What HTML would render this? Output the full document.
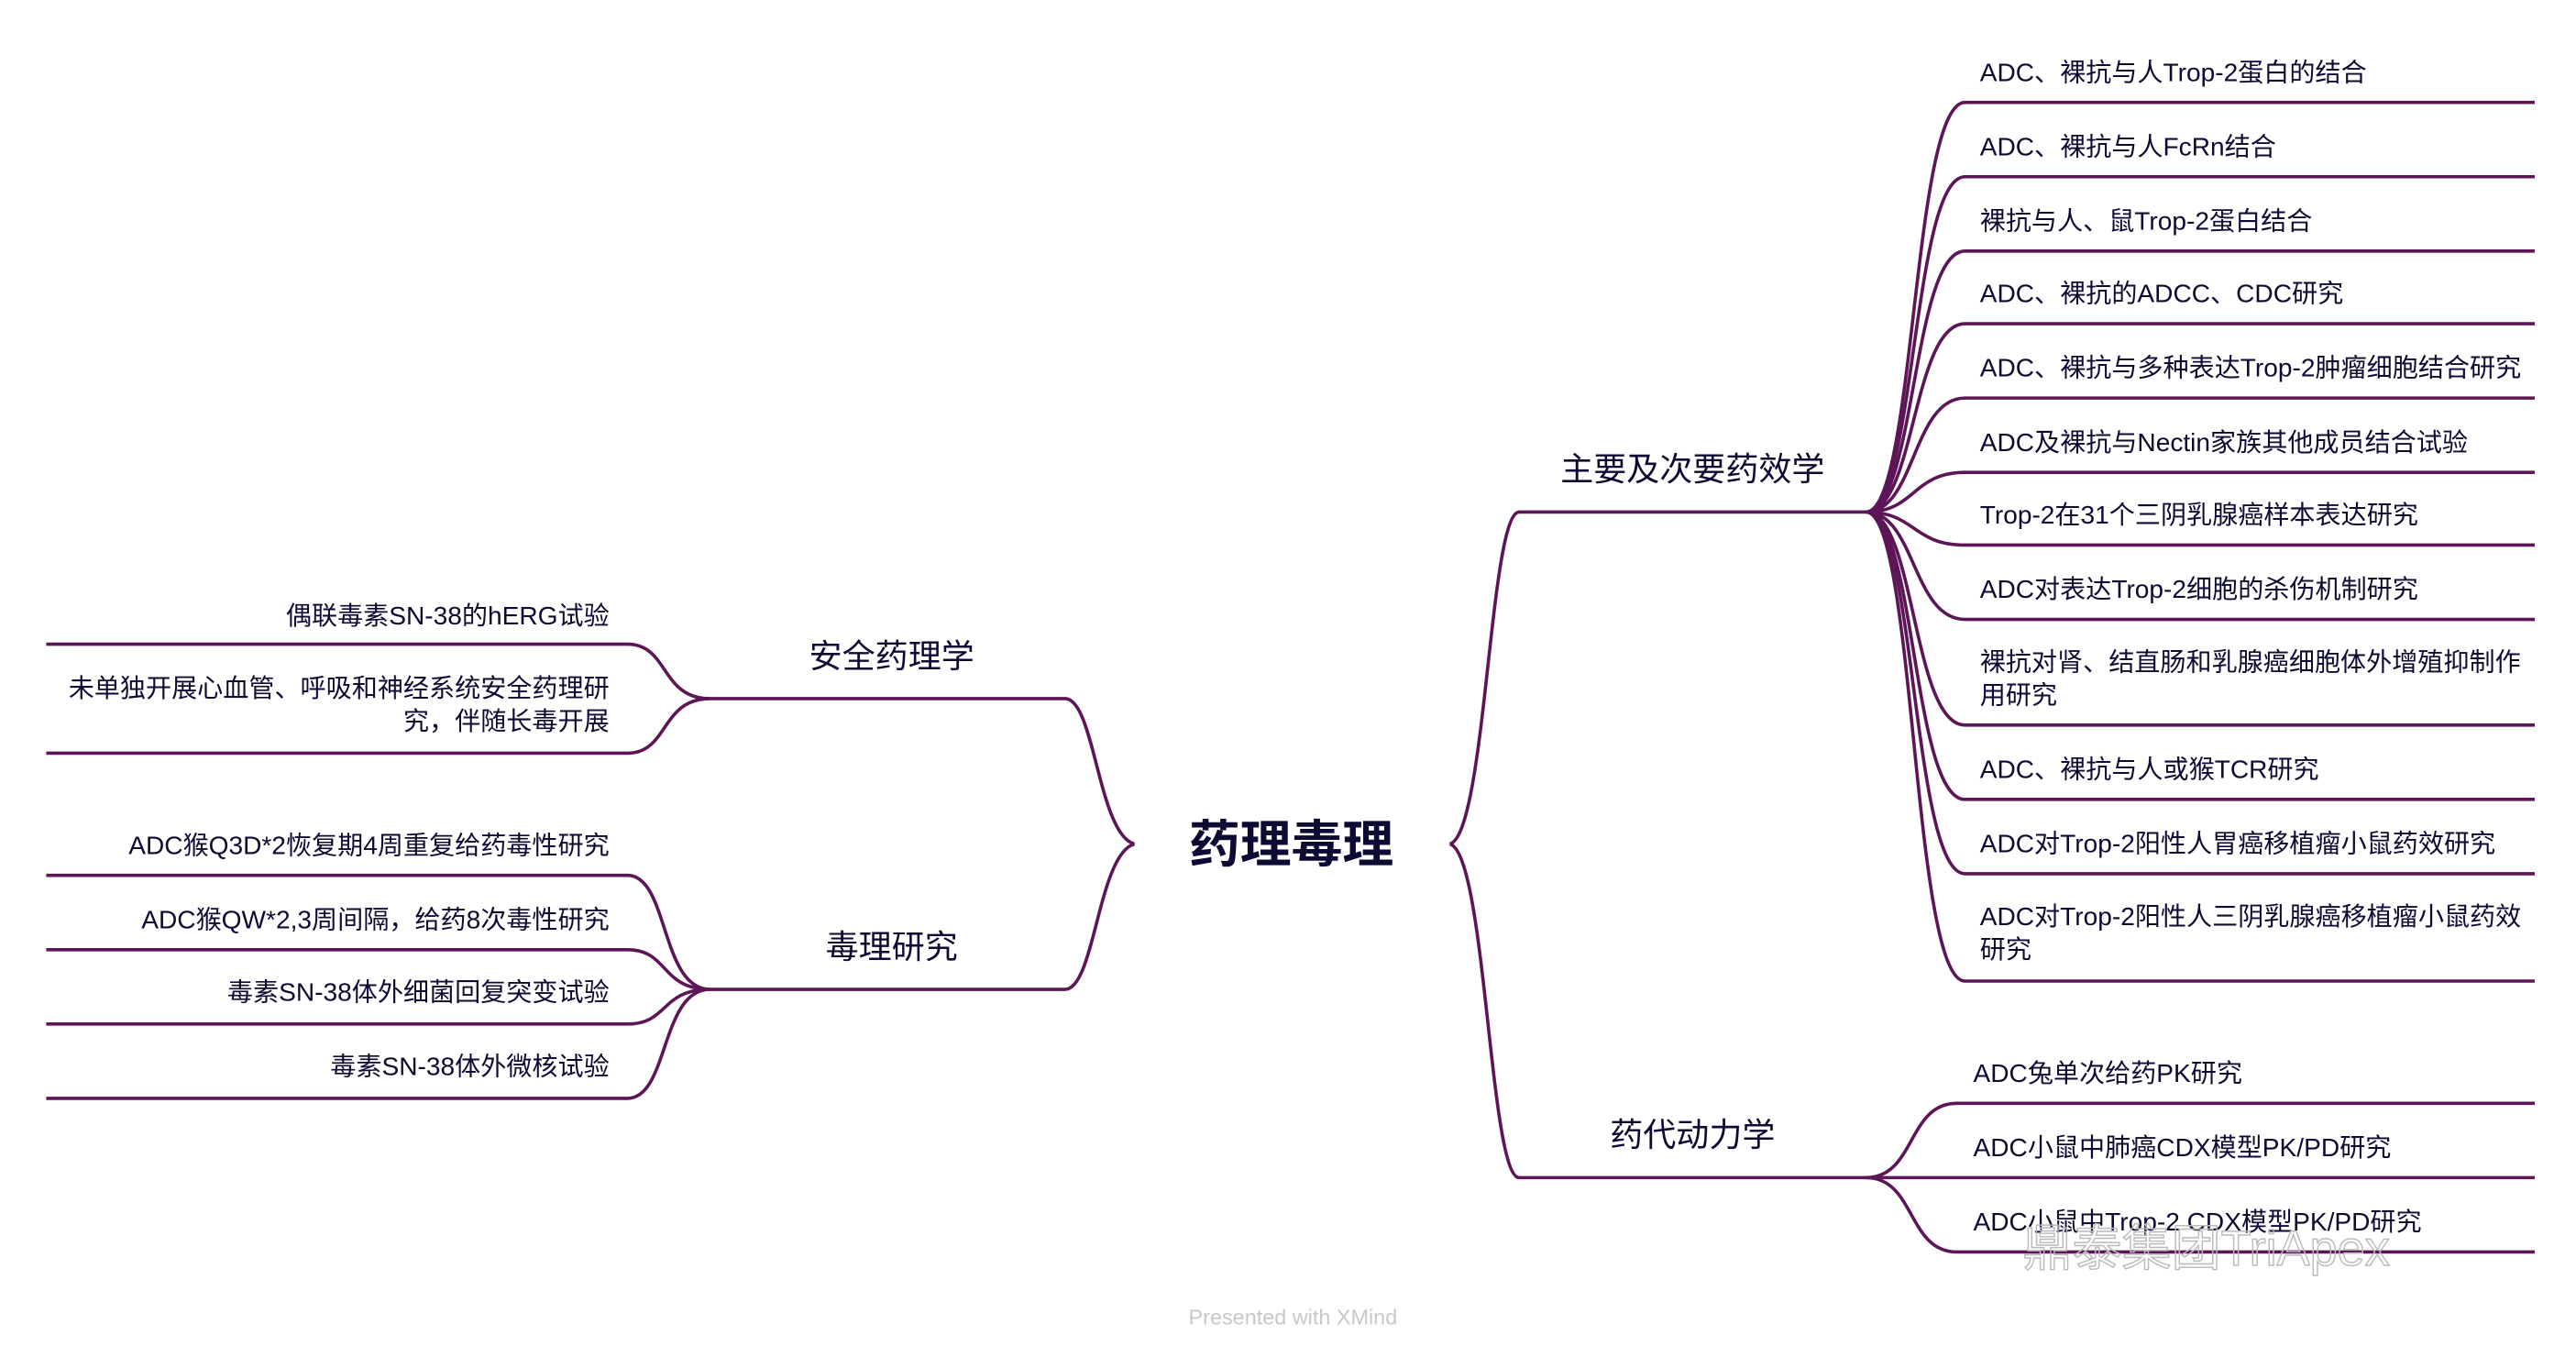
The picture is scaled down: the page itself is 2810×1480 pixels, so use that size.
<!DOCTYPE html>
<html><head><meta charset="utf-8"><style>
html,body{margin:0;padding:0;background:#fff;}
svg{display:block;}
text{font-family:"Liberation Sans","Noto Sans CJK SC",sans-serif;fill:#0d0a33;}
</style></head><body>
<svg width="2810" height="1480" viewBox="0 0 1560 821.6" preserveAspectRatio="none" xmlns="http://www.w3.org/2000/svg">
<g fill="none" stroke="#5c1658" stroke-width="2">
<path d="M878 511 C900 505 902 310 920 310 L1130 310"/>
<path d="M878 511 C900 517 902 713 920 713 L1130 713"/>
<path d="M687 511 C665 505 663 423 645 423 L430 423"/>
<path d="M687 511 C665 517 663 599 645 599 L430 599"/>
<path d="M1130 310 C1160 310 1158 62 1190 62 L1535 62"/>
<path d="M1130 310 C1160 310 1158 107 1190 107 L1535 107"/>
<path d="M1130 310 C1160 310 1158 152 1190 152 L1535 152"/>
<path d="M1130 310 C1160 310 1158 196 1190 196 L1535 196"/>
<path d="M1130 310 C1160 310 1158 241 1190 241 L1535 241"/>
<path d="M1130 310 C1160 310 1158 286 1190 286 L1535 286"/>
<path d="M1130 310 C1160 310 1158 330 1190 330 L1535 330"/>
<path d="M1130 310 C1160 310 1158 375 1190 375 L1535 375"/>
<path d="M1130 310 C1160 310 1158 439 1190 439 L1535 439"/>
<path d="M1130 310 C1160 310 1158 484 1190 484 L1535 484"/>
<path d="M1130 310 C1160 310 1158 529 1190 529 L1535 529"/>
<path d="M1130 310 C1160 310 1158 594 1190 594 L1535 594"/>
<path d="M1130 713 C1160 713 1155 668 1185 668 L1535 668"/>
<path d="M1130 713 L1535 713"/>
<path d="M1130 713 C1160 713 1155 758 1185 758 L1535 758"/>
<path d="M430 423 C400 423 405 390 380 390 L28 390"/>
<path d="M430 423 C400 423 405 456 380 456 L28 456"/>
<path d="M430 599 C400 599 405 530 380 530 L28 530"/>
<path d="M430 599 C400 599 405 575 380 575 L28 575"/>
<path d="M430 599 C400 599 405 620 380 620 L28 620"/>
<path d="M430 599 C400 599 405 665 380 665 L28 665"/>
</g>
<text x="782" y="522" font-size="31" font-weight="bold" text-anchor="middle">药理毒理</text>
<g font-size="20" text-anchor="middle">
<text x="1025" y="291">主要及次要药效学</text>
<text x="1025" y="694">药代动力学</text>
<text x="540" y="404">安全药理学</text>
<text x="540" y="580">毒理研究</text>
</g>
<g font-size="15.6">
<text x="1199" y="49">ADC、裸抗与人Trop-2蛋白的结合</text>
<text x="1199" y="94">ADC、裸抗与人FcRn结合</text>
<text x="1199" y="139">裸抗与人、鼠Trop-2蛋白结合</text>
<text x="1199" y="183">ADC、裸抗的ADCC、CDC研究</text>
<text x="1199" y="228">ADC、裸抗与多种表达Trop-2肿瘤细胞结合研究</text>
<text x="1199" y="273">ADC及裸抗与Nectin家族其他成员结合试验</text>
<text x="1199" y="317">Trop-2在31个三阴乳腺癌样本表达研究</text>
<text x="1199" y="362">ADC对表达Trop-2细胞的杀伤机制研究</text>
<text x="1199" y="406">裸抗对肾、结直肠和乳腺癌细胞体外增殖抑制作</text>
<text x="1199" y="426">用研究</text>
<text x="1199" y="471">ADC、裸抗与人或猴TCR研究</text>
<text x="1199" y="516">ADC对Trop-2阳性人胃癌移植瘤小鼠药效研究</text>
<text x="1199" y="560">ADC对Trop-2阳性人三阴乳腺癌移植瘤小鼠药效</text>
<text x="1199" y="580">研究</text>
<text x="1195" y="655">ADC兔单次给药PK研究</text>
<text x="1195" y="700">ADC小鼠中肺癌CDX模型PK/PD研究</text>
<text x="1195" y="745">ADC小鼠中Trop-2 CDX模型PK/PD研究</text>
</g>
<g font-size="15.6" text-anchor="end">
<text x="369" y="378">偶联毒素SN-38的hERG试验</text>
<text x="369" y="422">未单独开展心血管、呼吸和神经系统安全药理研</text>
<text x="369" y="442">究，伴随长毒开展</text>
<text x="369" y="517">ADC猴Q3D*2恢复期4周重复给药毒性研究</text>
<text x="369" y="562">ADC猴QW*2,3周间隔，给药8次毒性研究</text>
<text x="369" y="606">毒素SN-38体外细菌回复突变试验</text>
<text x="369" y="651">毒素SN-38体外微核试验</text>
</g>
<text x="783" y="802" font-size="13" text-anchor="middle" style="fill:#c8c8c8">Presented with XMind</text>
<text x="1225" y="766" font-size="30" style="fill:none;stroke:#bbb;stroke-width:0.8">鼎泰集团TriApex</text>
</svg>
</body></html>
